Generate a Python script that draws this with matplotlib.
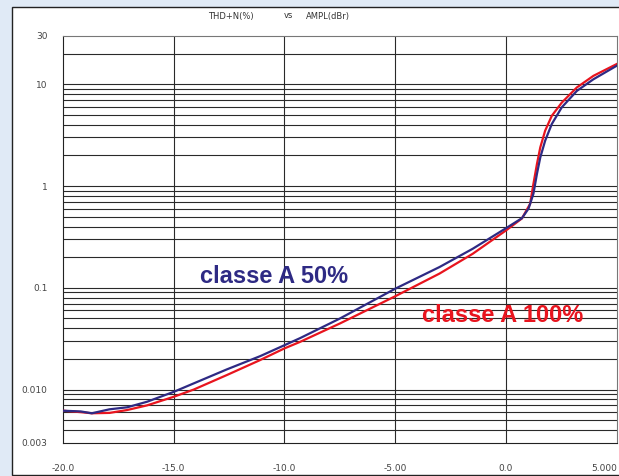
import numpy as np
import matplotlib
matplotlib.use("Agg")
import matplotlib.pyplot as plt
from matplotlib.patches import Rectangle

# THD+N (%) versus output level (dBr), class A bias 50% and 100%
ampl_50 = [-20.0, -19.2, -18.7, -17.9, -17.1, -16.2, -15.6, -15.0, -14.1, -12.6,
           -11.1, -10.0, -9.3, -7.5, -5.0, -3.0, -1.5, 0.0, 0.72, 1.02, 1.24,
           1.40, 1.55, 1.77, 2.07, 2.52, 3.20, 3.95, 5.0]
thd_50 = [0.0062, 0.0061, 0.00585, 0.0064, 0.0067, 0.0076, 0.0085, 0.0095, 0.0115,
          0.0158, 0.0213, 0.0273, 0.032, 0.0499, 0.098, 0.16, 0.242, 0.385, 0.483,
          0.60, 0.84, 1.32, 1.91, 2.79, 4.07, 5.93, 8.6, 11.2, 15.2]

ampl_100 = [-20.0, -19.2, -18.7, -17.9, -17.1, -16.2, -15.0, -14.1, -12.6, -11.1,
            -10.0, -9.3, -7.5, -5.0, -3.0, -1.5, 0.0, 0.72, 1.09, 1.24, 1.40,
            1.55, 1.77, 2.07, 2.52, 3.20, 3.95, 5.0]
thd_100 = [0.0062, 0.0060, 0.00585, 0.0059, 0.0063, 0.0070, 0.0085, 0.0100, 0.0139,
           0.0195, 0.0254, 0.0294, 0.0446, 0.0826, 0.138, 0.216, 0.366, 0.48, 0.668,
           1.05, 1.65, 2.40, 3.5, 4.9, 6.6, 9.3, 12.1, 15.8]

x_ticks = [-20, -15, -10, -5, 0, 5]
x_labels = ["-20.0", "-15.0", "-10.0", "-5.00", "0.0", "5.000"]
y_ticks = [0.003, 0.01, 0.1, 1, 10, 30]
y_labels = ["0.003", "0.010", "0.1", "1", "10", "30"]

BLUE = "#2e2a84"
RED = "#e8141e"

fig = plt.figure(figsize=(6.19, 4.76), dpi=100)
fig.patch.set_facecolor("#e0eaf6")
# white panel with dark border, kept behind the axes
fig.patches.append(Rectangle((12 / 619, 1 / 476), 1.0, 1 - 8 / 476,
                             transform=fig.transFigure, facecolor="white",
                             edgecolor="#222222", linewidth=1.0, zorder=-1))

ax = fig.add_axes([63 / 619, 1 - 442.8 / 476, 553.7 / 619, 407.1 / 476])
ax.set_zorder(2)
ax.set_facecolor("white")
ax.set_yscale("log")
ax.set_xlim(-20, 5)
ax.set_ylim(0.003, 30)

# grid: every 1..9 step of each decade, plus the inner dB lines
for dec in [0.001, 0.01, 0.1, 1, 10]:
    for m in range(1, 10):
        v = m * dec
        if 0.003 < v < 30:
            ax.axhline(v, color="#2a2a2a", linewidth=0.8, zorder=1)
for xv in [-15, -10, -5, 0]:
    ax.axvline(xv, color="#2a2a2a", linewidth=0.8, zorder=1)

ax.plot(ampl_100, thd_100, color=RED, linewidth=1.6, zorder=3)
ax.plot(ampl_50, thd_50, color=BLUE, linewidth=1.6, zorder=4)

ax.text(-13.8, 0.111, "classe A 50%", color=BLUE, fontsize=17, fontweight="bold",
        family="Liberation Sans", va="baseline", ha="left", zorder=5)
ax.text(-3.8, 0.046, "classe A 100%", color=RED, fontsize=17, fontweight="bold",
        family="Liberation Sans", va="baseline", ha="left", zorder=5)

ax.set_xticks(x_ticks)
ax.set_xticklabels(x_labels)
ax.set_yticks(y_ticks)
ax.set_yticklabels(y_labels)
ax.minorticks_off()
ax.tick_params(axis="both", length=0, labelsize=6.5, labelcolor="#444444")
ax.tick_params(axis="x", pad=15)
ax.tick_params(axis="y", pad=11)
ax.get_xticklabels()[-1].set_horizontalalignment("right")

for side in ["top", "right"]:
    ax.spines[side].set_color("#777777")
for side in ["left", "bottom"]:
    ax.spines[side].set_color("#222222")

fig.text(208 / 619, 1 - 16 / 476, "THD+N(%)", fontsize=6, color="#333333",
         va="center", ha="left")
fig.text(284 / 619, 1 - 16 / 476, "vs", fontsize=6, color="#333333",
         va="center", ha="left")
fig.text(306 / 619, 1 - 16 / 476, "AMPL(dBr)", fontsize=6, color="#333333",
         va="center", ha="left")

fig.savefig("out.png", dpi=100, facecolor=fig.get_facecolor())
